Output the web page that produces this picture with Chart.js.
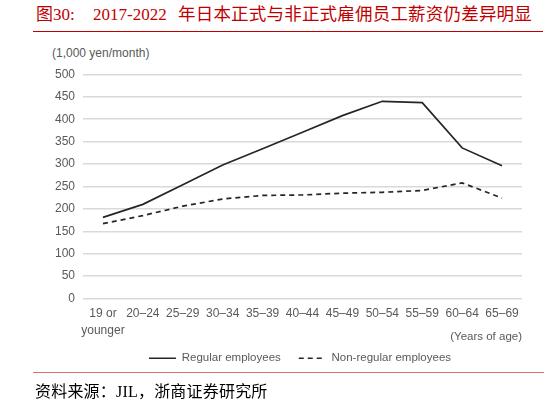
<!DOCTYPE html>
<html lang="zh">
<head>
    <meta charset="UTF-8">
    <title>图30</title>
    <script src="https://cdn.jsdelivr.net/npm/chart.js"></script>
    <style>
        * {
            margin: 0;
            padding: 0;
            box-sizing: border-box;
        }
        body {
            width: 548px;
            height: 403px;
            background: #ffffff;
            position: relative;
            overflow: hidden;
            font-family: "Liberation Sans", Arial, sans-serif;
        }
        .title {
            position: absolute;
            left: 36px;
            top: 0px;
            font-family: "Liberation Serif", "Noto Sans CJK SC", serif;
            font-size: 17px;
            color: #c00000;
            white-space: nowrap;
        }
        .title span {
            display: inline-block;
        }
        .title .num {
            width: 57px;
        }
        .title .year {
            width: 85px;
        }
        .title .cjk {
            font-size: 17.5px;
            letter-spacing: 0.2px;
        }
        .rule-top {
            position: absolute;
            left: 33px;
            top: 31px;
            width: 510px;
            border-top: 1px solid #c00000;
        }
        .unit {
            position: absolute;
            left: 52px;
            top: 46px;
            font-size: 12px;
            color: #595959;
        }
        .chart-box {
            position: absolute;
            left: 40px;
            top: 58px;
            width: 490px;
            height: 321px;
        }
        .rule-bottom {
            position: absolute;
            left: 33px;
            top: 372px;
            width: 511px;
            border-top: 1px solid #e07070;
        }
        .source {
            position: absolute;
            left: 35px;
            top: 378px;
            font-family: "Liberation Serif", "Noto Sans CJK SC", serif;
            font-size: 16px;
            letter-spacing: 0.2px;
            color: #000000;
        }
    </style>
</head>
<body>
    <div class="title"><span class="num">图30:</span><span class="year">2017-2022</span><span class="cjk">年日本正式与非正式雇佣员工薪资仍差异明显</span></div>
    <div class="rule-top"></div>
    <div class="unit">(1,000 yen/month)</div>
    <div class="chart-box"><canvas id="wageChart"></canvas></div>
    <div class="rule-bottom"></div>
    <div class="source">资料来源：JIL，浙商证券研究所</div>

    <script>
        const ageGroups = [['19 or', 'younger'], '20–24', '25–29', '30–34', '35–39', '40–44',
            '45–49', '50–54', '55–59', '60–64', '65–69'];
        const regularWages = [181, 210, 254, 298, 334, 371, 408, 440, 437, 336, 296];
        const nonRegularWages = [167, 185, 206, 222, 230, 231, 235, 237, 241, 258, 224];

        const sans = '"Liberation Sans", Arial, sans-serif';
        const tickFont = { size: 12, family: sans, lineHeight: 1.4 };

        // the legend in the original sits a bit right of centre and tucks up under the axis title
        const legendShift = {
            id: 'legendShift',
            afterLayout(chart) {
                chart.legend.left += 19;
                chart.legend.right += 19;
                chart.legend.top -= 5;
                chart.legend.bottom -= 5;
            }
        };

        const ctx = document.getElementById('wageChart').getContext('2d');
        const wageChart = new Chart(ctx, {
            type: 'line',
            data: {
                labels: ageGroups,
                datasets: [{
                    label: 'Regular employees',
                    data: regularWages,
                    borderColor: '#262626',
                    backgroundColor: '#262626',
                    borderWidth: 1.7,
                    pointRadius: 0,
                    tension: 0
                }, {
                    label: 'Non-regular employees',
                    data: nonRegularWages,
                    borderColor: '#262626',
                    backgroundColor: '#262626',
                    borderWidth: 1.7,
                    borderDash: [5, 4],
                    pointRadius: 0,
                    tension: 0
                }]
            },
            options: {
                responsive: true,
                maintainAspectRatio: false,
                animation: false,
                layout: {
                    padding: { top: 16, right: 8, bottom: 0, left: 0 }
                },
                scales: {
                    x: {
                        offset: true,
                        grid: { display: false, drawTicks: false },
                        border: { display: false },
                        ticks: {
                            color: '#595959',
                            font: tickFont,
                            maxRotation: 0,
                            autoSkip: false,
                            padding: 7
                        },
                        title: {
                            display: true,
                            text: '(Years of age)',
                            align: 'end',
                            color: '#595959',
                            font: { size: 11.5, family: sans },
                            padding: { top: 0, bottom: -4 }
                        },
                        afterFit: function(scale) {
                            scale.height = 41;
                        }
                    },
                    y: {
                        min: 0,
                        max: 500,
                        grid: {
                            color: '#d9d9d9',
                            lineWidth: 1.5,
                            drawTicks: false
                        },
                        border: { display: false },
                        ticks: {
                            stepSize: 50,
                            color: '#595959',
                            font: tickFont,
                            padding: 8
                        },
                        afterFit: function(scale) {
                            scale.width = 43;
                        }
                    }
                },
                plugins: {
                    legend: {
                        position: 'bottom',
                        labels: {
                            color: '#595959',
                            font: { size: 11.5, family: sans },
                            usePointStyle: true,
                            pointStyle: 'line',
                            pointStyleWidth: 27,
                            padding: 18,
                            generateLabels: function(chart) {
                                const items = Chart.defaults.plugins.legend.labels.generateLabels(chart);
                                items.forEach(item => {
                                    const ds = chart.data.datasets[item.datasetIndex];
                                    item.lineDash = ds.borderDash || [];
                                    item.lineWidth = 1.7;
                                    item.strokeStyle = ds.borderColor;
                                });
                                return items;
                            }
                        }
                    },
                    tooltip: { enabled: false }
                }
            },
            plugins: [legendShift]
        });
    </script>
</body>
</html>
